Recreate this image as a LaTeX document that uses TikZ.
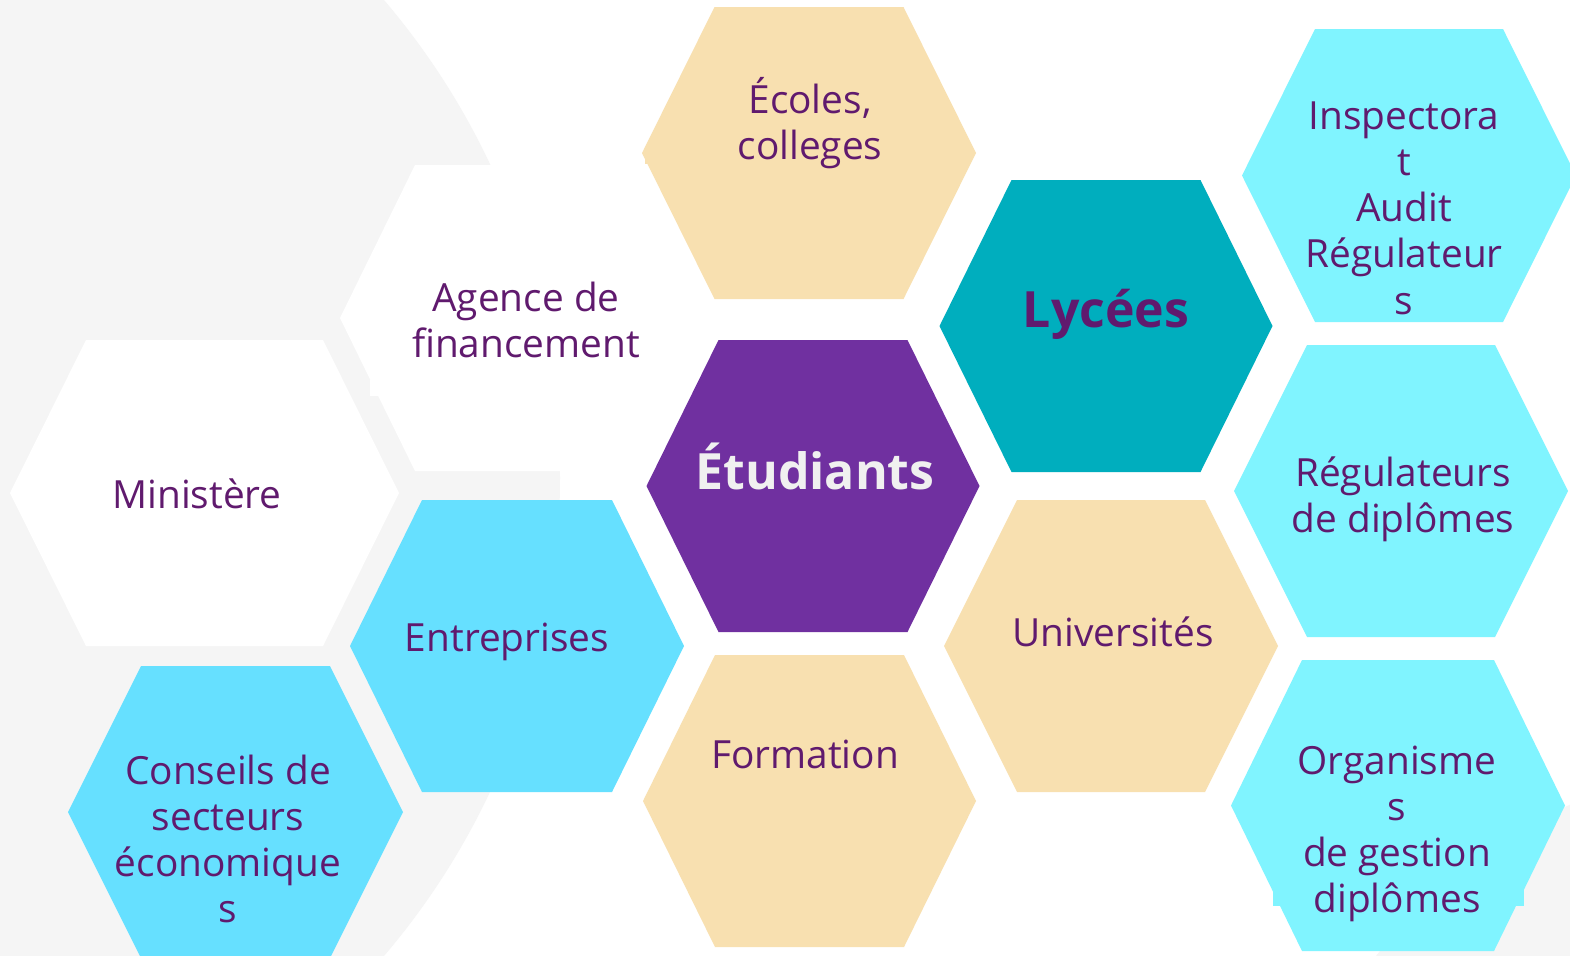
\documentclass[tikz,border=0pt]{standalone}
\usepackage{fontspec}
\setmainfont{Open Sans}
\usepackage{tikz}
\usepackage{xcolor}
\definecolor{bggray}{RGB}{245,245,245}
\definecolor{hexbeige}{RGB}{248,224,176}
\definecolor{hexteal}{RGB}{0,174,190}
\definecolor{hexpurple}{RGB}{112,48,160}
\definecolor{hexcyan}{RGB}{102,224,255}
\definecolor{hexaqua}{RGB}{128,244,255}
\definecolor{txtpurple}{RGB}{96,26,110}
\definecolor{txtwhite}{RGB}{240,240,240}
% hexagon: colour, centre, half width, inset, half height
\newcommand{\hexcell}[5]{%
  \fill[#1] (#2) ++(-#3,0) -- ++(#4,-#5) -- ++({2*(#3-#4)},0) -- ++(#4,#5)
    -- ++(-#4,#5) -- ++({-2*(#3-#4)},0) -- cycle;}

\begin{document}
\begin{tikzpicture}[x=0.5pt,y=-0.5pt,
    lbl/.style={text=txtpurple,align=center,font=\fontsize{19.4}{23.1}\selectfont},
    big/.style={align=center,font=\fontsize{25}{30}\selectfont\bfseries}]
        \useasboundingbox (0,0) rectangle (1570,955);
        \fill[white] (0,0) rectangle (1570,955);

        \begin{scope}
            \clip (0,0) rectangle (1570,955);
            \fill[bggray] (-177,478) circle (368.5pt);
            \fill[bggray] (1800,1300) circle (273pt);
        \end{scope}

        \hexcell{white}{534.5,318}{194.5}{75}{153}
        \hexcell{white}{204.5,493}{194.5}{76}{153}
        \fill[white] (370,380) rectangle (420,396);

        \hexcell{hexbeige}{809,153}{167}{72.5}{146}
        \fill[hexbeige] (645,150) rectangle (700,164);
        \hexcell{hexteal}{1106,326}{166.5}{72}{146}
        \hexcell{hexpurple}{813,486}{166.5}{72}{146}
        \hexcell{hexbeige}{1111,646}{167}{73}{146}
        \hexcell{hexbeige}{809.5,801}{166.5}{72}{146}
        \hexcell{hexcyan}{517,646}{167}{72}{146}
        \hexcell{hexcyan}{235.5,812}{167.5}{73}{146}

        \hexcell{hexaqua}{1409,175.5}{167}{73}{146.5}
        \hexcell{hexaqua}{1401,491}{167}{73}{146}
        \hexcell{hexaqua}{1398,805.5}{167}{71}{145.5}
        \fill[hexaqua] (1273,888) rectangle (1524,906);

        \node[lbl] (ecoles) at (810,123) {Écoles,\\colleges};
        \node[lbl] (agence) at (526,320) {Agence de\\financement};
        \node[big,text=txtpurple] (lycees) at (1106,314) {Lycées};
        \node[lbl] (inspectorat) at (1404,208) {Inspectora\\t\\Audit\\Régulateur\\s};
        \node[lbl] (ministere) at (197,494) {Ministère};
        \node[big,text=txtwhite] (etudiants) at (815,466) {Étudiants};
        \node[lbl] (regulateurs) at (1403,499) {Régulateurs\\de diplômes};
        \node[lbl] (entreprises) at (507,642) {Entreprises};
        \node[lbl] (universites) at (1113,632) {Universités};
        \node[lbl] (formation) at (805,754) {Formation};
        \node[lbl] (conseils) at (228,839) {Conseils de\\secteurs\\économique\\s};
        \node[lbl] (organismes) at (1397,834) {Organisme\\s\\de gestion\\diplômes};
    \end{tikzpicture}
\end{document}
